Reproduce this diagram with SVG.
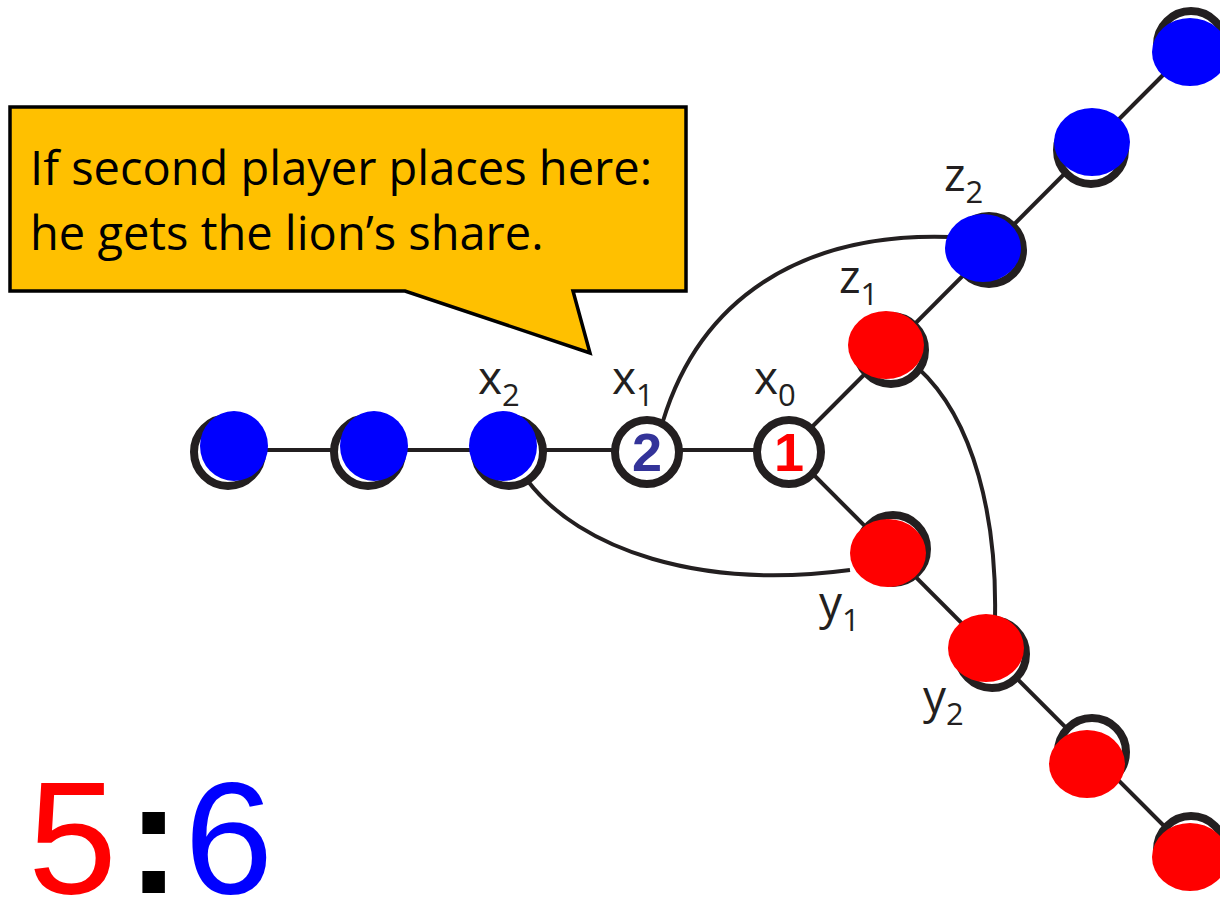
<svg xmlns="http://www.w3.org/2000/svg" width="1220" height="910" viewBox="0 0 1220 910">
<style>
.edge{fill:none;stroke:#231f20;stroke-width:4}
.ring{fill:#fff;stroke:#231f20;stroke-width:8}
.blue{fill:#0000ff}
.red{fill:#ff0000}
.lbl{font-family:"Open Sans","Liberation Sans",sans-serif;font-size:46px;fill:#231f20}
.sub{font-size:31px}
.num{font-family:"Liberation Sans",Arial,sans-serif;font-weight:bold;font-size:54px;text-anchor:middle}
.callout{font-family:"Open Sans","Liberation Sans",sans-serif;font-size:47px;fill:#000}
.score{font-family:"Liberation Sans",Arial,sans-serif;font-size:160px}
</style>
<g id="connectors">
<line class="edge" x1="228" y1="450" x2="789" y2="450"/>
<line class="edge" x1="789" y1="450" x2="1190" y2="48"/>
<line class="edge" x1="789" y1="450" x2="1190" y2="852"/>
<path class="edge" d="M663,421 C700,300 800,232 950,237"/>
<path class="edge" d="M527,480 C580,550 700,590 850,570"/>
<path class="edge" d="M918,368 C975,420 997,520 995,618"/>
</g>
<g id="callout">
<path d="M10,107 L686,107 L686,291 L573,291 L590,353 L405,291 L10,291 Z" fill="#ffc000" stroke="#000" stroke-width="3.5" stroke-linejoin="miter"/>
<text class="callout" x="30" y="185">If second player places here:</text>
<text class="callout" x="30" y="250">he gets the lion’s share.</text>
</g>
<g id="node-a"><circle class="ring" cx="228" cy="452" r="34"/><ellipse class="blue" cx="234" cy="446" rx="34" ry="35"/></g>
<g id="node-b"><circle class="ring" cx="368" cy="452" r="34"/><ellipse class="blue" cx="374" cy="446" rx="34" ry="35"/></g>
<g id="node-x2"><circle class="ring" cx="509" cy="452" r="34"/><ellipse class="blue" cx="503" cy="446" rx="34" ry="35"/></g>
<g id="node-x1"><circle class="ring" cx="647" cy="452" r="32"/><text class="num" x="647" y="471" fill="#333399">2</text></g>
<g id="node-x0"><circle class="ring" cx="789" cy="452" r="32"/><text class="num" x="789" y="471" fill="#ff0000">1</text></g>
<g id="node-z1"><circle class="ring" cx="891" cy="350" r="34"/><ellipse class="red" cx="886" cy="345" rx="38" ry="34"/></g>
<g id="node-z2"><circle class="ring" cx="989" cy="250" r="34"/><ellipse class="blue" cx="983" cy="248" rx="38" ry="34"/></g>
<g id="node-z3"><circle class="ring" cx="1091" cy="150" r="34"/><ellipse class="blue" cx="1092" cy="142" rx="38" ry="34"/></g>
<g id="node-z4"><circle class="ring" cx="1191" cy="45" r="34"/><ellipse class="blue" cx="1190" cy="52" rx="38" ry="34"/></g>
<g id="node-y1"><circle class="ring" cx="893" cy="549" r="34"/><ellipse class="red" cx="888" cy="553" rx="38" ry="34"/></g>
<g id="node-y2"><circle class="ring" cx="992" cy="654" r="34"/><ellipse class="red" cx="986" cy="648" rx="38" ry="34"/></g>
<g id="node-y3"><circle class="ring" cx="1092" cy="752" r="34"/><ellipse class="red" cx="1087" cy="764" rx="38" ry="34"/></g>
<g id="node-y4"><circle class="ring" cx="1191" cy="850" r="34"/><ellipse class="red" cx="1190" cy="857" rx="38" ry="34"/></g>
<g id="labels">
<text class="lbl" x="478" y="394">x<tspan class="sub" dy="12">2</tspan></text>
<text class="lbl" x="612" y="394">x<tspan class="sub" dy="12">1</tspan></text>
<text class="lbl" x="754" y="394">x<tspan class="sub" dy="12">0</tspan></text>
<text class="lbl" x="944" y="191">z<tspan class="sub" dy="12">2</tspan></text>
<text class="lbl" x="839" y="293">z<tspan class="sub" dy="12">1</tspan></text>
<text class="lbl" x="819" y="619">y<tspan class="sub" dy="12">1</tspan></text>
<text class="lbl" x="923" y="713">y<tspan class="sub" dy="12">2</tspan></text>
</g>
<g id="score">
<text class="score" x="28" y="893"><tspan fill="#ff0000">5</tspan><tspan fill="#000" font-weight="bold" dx="10">:</tspan><tspan fill="#0000ff" dx="4">6</tspan></text>
</g>
</svg>
